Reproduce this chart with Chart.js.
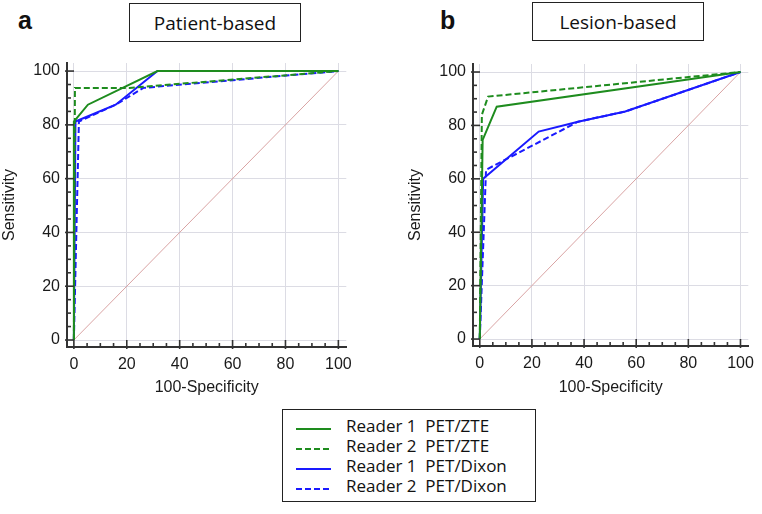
<!DOCTYPE html>
<html>
<head>
<meta charset="utf-8">
<script src="https://cdn.jsdelivr.net/npm/chart.js@4.4.1/dist/chart.umd.min.js"></script>
<style>
  html, body { margin:0; padding:0; background:#fff; }
  #wrap { position:relative; width:762px; height:514px; overflow:hidden; background:#fff; }
  .cv { position:absolute; top:0; }
  .letter { position:absolute; font-family:"Liberation Sans", Arial, sans-serif; font-weight:bold; font-size:25px; line-height:1; color:#111; }
  .tbox { position:absolute; box-sizing:border-box; border:1.5px solid #222; font-family:"Open Sans", sans-serif; font-size:19px; color:#111; display:flex; align-items:center; justify-content:center; }
  #legend { position:absolute; left:282px; top:409px; width:254px; height:93px; box-sizing:border-box; border:1.5px solid #222; }
  .lrow { position:absolute; left:0; height:20px; width:100%; font-family:"Open Sans", sans-serif; font-size:17px; color:#111; }
  .lrow svg { position:absolute; left:13px; top:9px; }
  .lrow span { position:absolute; left:63px; top:-4px; white-space:pre; line-height:24px; }
</style>
</head>
<body>
<div id="wrap">
  <div class="letter" style="left:18px; top:8px;">a</div>
  <div class="letter" style="left:440px; top:8px;">b</div>
  <div class="tbox" style="left:129px; top:3px; width:172px; height:39px;">Patient-based</div>
  <div class="tbox" style="left:532px; top:2px; width:172px; height:39px;">Lesion-based</div>
  <canvas id="c1" class="cv" style="left:0px;" width="360" height="400"></canvas>
  <canvas id="c2" class="cv" style="left:406px;" width="356" height="400"></canvas>
  <div id="legend"></div>
</div>
<script>
// ---- Series labels ----
const seriesNames = ["Reader 1  PET/ZTE", "Reader 2  PET/ZTE", "Reader 1  PET/Dixon", "Reader 2  PET/Dixon"];
const seriesColors = ["#1e8c1e", "#1e8c1e", "#1a1aff", "#1a1aff"];
const seriesDashed = [false, true, false, true];

// ---- Panel a: Patient-based (x = 100-Specificity, y = Sensitivity) ----
const patR1ZteX = [0, 0, 5.3, 31.6, 100];
const patR1ZteY = [0, 81.25, 87.5, 100, 100];
const patR2ZteX = [0, 0.4, 21, 100];
const patR2ZteY = [0, 93.75, 93.75, 100];
const patR1DixX = [0, 0.6, 15.8, 31.6, 100];
const patR1DixY = [0, 81.25, 87.5, 100, 100];
const patR2DixX = [0, 1.9, 15.8, 26.3, 100];
const patR2DixY = [0, 81.25, 87.5, 93.75, 100];

// ---- Panel b: Lesion-based ----
const lesR1ZteX = [0, 1.1, 6.5, 100];
const lesR1ZteY = [0, 74.6, 87.0, 100];
const lesR2ZteX = [0, 0.8, 3.2, 100];
const lesR2ZteY = [0, 84.0, 90.8, 100];
const lesR1DixX = [0, 1.3, 22.6, 37.7, 55.8, 100];
const lesR1DixY = [0, 60.0, 77.7, 81.4, 85.2, 100];
const lesR2DixX = [0, 2.4, 37.7, 55.8, 100];
const lesR2DixY = [0, 63.4, 81.4, 85.2, 100];

// ---- Reference diagonal ----
const diagX = [0, 100];
const diagY = [0, 100];

// ---- Axis ticks ----
const tickStep = 5;
const labelStep = 20;
const axisMin = -2.6;
const axisMax = 103;

const pts = (xs, ys) => xs.map((x, i) => ({x: x, y: ys[i]}));

function makeDatasets(list) {
  const ds = list.map((s, i) => ({
    label: seriesNames[i],
    data: pts(s[0], s[1]),
    borderColor: seriesColors[i],
    backgroundColor: seriesColors[i],
    borderWidth: 2,
    borderDash: seriesDashed[i] ? [6, 3] : [],
    showLine: true, pointRadius: 0, tension: 0, fill: false
  }));
  ds.push({
    label: "diag", data: pts(diagX, diagY), borderColor: "#d9a3a3", borderWidth: 1,
    showLine: true, pointRadius: 0, tension: 0, fill: false
  });
  return ds;
}

const innerTicks = {
  id: 'innerTicks',
  afterDraw(chart) {
    const ctx = chart.ctx;
    const a = chart.chartArea;
    ctx.save();
    ctx.strokeStyle = '#333';
    ctx.lineWidth = 1.6;
    const xs = chart.scales.x, ys = chart.scales.y;
    xs.ticks.forEach(t => {
      const v = t.value; if (v < 0 || v > 100) return;
      const p = xs.getPixelForValue(v);
      const major = v % labelStep === 0;
      ctx.beginPath();
      ctx.moveTo(p, a.bottom + (major ? 2 : 0));
      ctx.lineTo(p, a.bottom - (major ? 7 : 4));
      ctx.stroke();
    });
    ys.ticks.forEach(t => {
      const v = t.value; if (v < 0 || v > 100) return;
      const p = ys.getPixelForValue(v);
      const major = v % labelStep === 0;
      ctx.beginPath();
      ctx.moveTo(a.left - (major ? 2 : 0), p);
      ctx.lineTo(a.left + (major ? 7 : 4), p);
      ctx.stroke();
    });
    ctx.restore();
  }
};

function gridColor(c) {
  const v = c.tick ? c.tick.value : null;
  return (v !== null && v % labelStep === 0 && v >= 0 && v <= 100) ? '#dcdce4' : 'rgba(0,0,0,0)';
}

function makeChart(id, datasets, padTop, xHeight, padRight) {
  const font = {family: '"Liberation Sans", Arial, sans-serif', size: 16};
  return new Chart(document.getElementById(id), {
    type: 'scatter',
    data: {datasets: datasets},
    plugins: [innerTicks],
    options: {
      responsive: false, animation: false, events: [],
      layout: {padding: {top: padTop, right: padRight, bottom: 0, left: 0}},
      plugins: {legend: {display: false}, tooltip: {enabled: false}},
      scales: {
        x: {
          type: 'linear', min: axisMin, max: axisMax,
          border: {display: true, color: '#333', width: 2},
          grid: {color: gridColor, lineWidth: 1, drawTicks: false},
          ticks: {stepSize: tickStep, includeBounds: false, autoSkip: false, maxRotation: 0, padding: 8,
                  color: '#1a1a1a', font: font,
                  callback: v => (v % labelStep === 0 && v >= 0) ? String(v) : ''},
          title: {display: true, text: '100-Specificity', color: '#1a1a1a', font: font, padding: {top: 0, bottom: 3}},
          afterFit: s => { s.height = xHeight; }
        },
        y: {
          type: 'linear', min: axisMin, max: axisMax,
          border: {display: true, color: '#333', width: 2},
          grid: {color: gridColor, lineWidth: 1, drawTicks: false},
          ticks: {stepSize: tickStep, includeBounds: false, autoSkip: false, padding: 7,
                  color: '#1a1a1a', font: font,
                  callback: v => (v % labelStep === 0 && v >= 0) ? String(v) : ''},
          title: {display: true, text: 'Sensitivity', color: '#1a1a1a', font: font, padding: {top: 0, bottom: 0}},
          afterFit: s => { s.width = 67; }
        }
      }
    }
  });
}

makeChart('c1', makeDatasets([[patR1ZteX, patR1ZteY], [patR2ZteX, patR2ZteY], [patR1DixX, patR1DixY], [patR2DixX, patR2DixY]]), 63, 53, 10);
makeChart('c2', makeDatasets([[lesR1ZteX, lesR1ZteY], [lesR2ZteX, lesR2ZteY], [lesR1DixX, lesR1DixY], [lesR2DixX, lesR2DixY]]), 64, 54, 6);

// ---- Legend ----
const legend = document.getElementById('legend');
seriesNames.forEach((name, i) => {
  const row = document.createElement('div');
  row.className = 'lrow';
  row.style.top = (8 + i * 20) + 'px';
  const dash = seriesDashed[i] ? ' stroke-dasharray="6 3"' : '';
  row.innerHTML = '<svg width="36" height="4"><line x1="0" y1="2" x2="35" y2="2" stroke="' + seriesColors[i] + '" stroke-width="2"' + dash + '/></svg><span>' + name + '</span>';
  legend.appendChild(row);
});
</script>
</body>
</html>
